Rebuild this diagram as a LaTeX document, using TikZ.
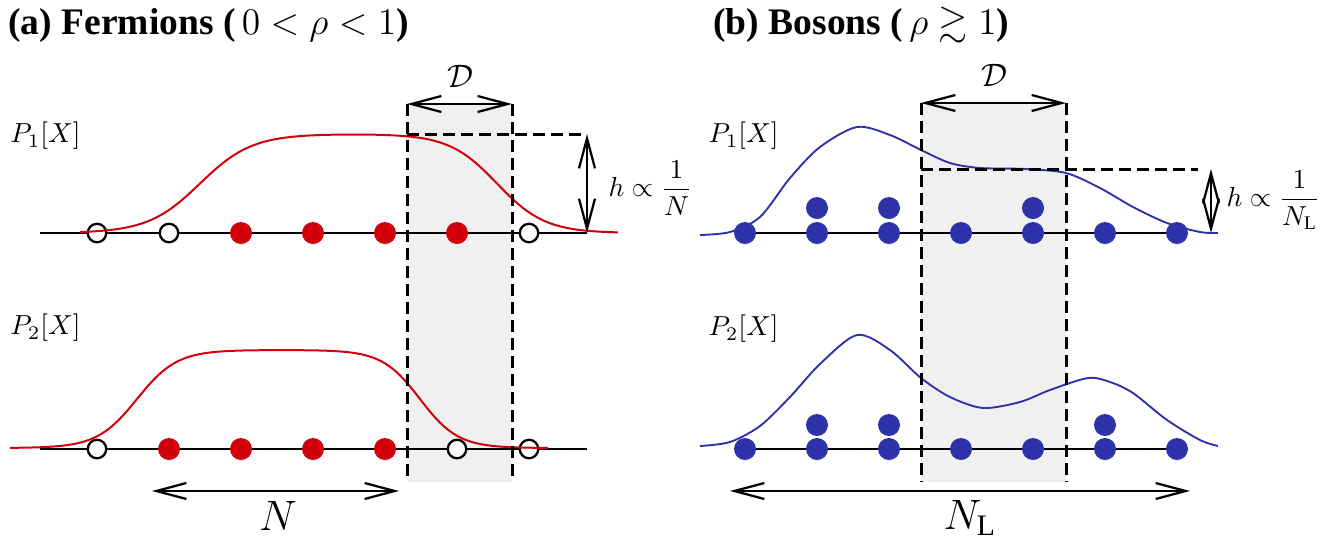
\documentclass[tikz,border=0pt]{standalone}
\usepackage{fix-cm}
\usepackage{amsmath,amssymb}
\usepackage{fontspec}
\setmainfont{Liberation Serif}
\usetikzlibrary{arrows.meta}
\definecolor{fermred}{RGB}{210,0,10}
\definecolor{bosblue}{RGB}{46,50,168}
\definecolor{shadegray}{RGB}{240,240,240}
\tikzset{
  axisline/.style={line width=1pt},
  hole/.style={circle, draw=black, fill=white, line width=0.9pt, minimum size=7.4pt, inner sep=0pt},
  ferm/.style={circle, fill=fermred, minimum size=8.8pt, inner sep=0pt},
  bos/.style={circle, fill=bosblue, minimum size=8.8pt, inner sep=0pt},
  guide/.style={line width=1.2pt, dash pattern=on 4.6pt off 2.6pt},
  dimarrow/.style={line width=0.9pt, {Straight Barb[length=12pt,width=6.4pt]}-{Straight Barb[length=12pt,width=6.4pt]}},
  redcurve/.style={draw=fermred, line width=0.8pt},
  bluecurve/.style={draw=bosblue, line width=0.75pt},
  lab/.style={inner sep=0pt, font=\fontsize{11}{13}\selectfont},
  bigl/.style={inner sep=0pt, font=\fontsize{17}{20}\selectfont},
  dl/.style={inner sep=0pt, font=\fontsize{13}{15}\selectfont},
  ttl/.style={inner sep=0pt, anchor=base west, font=\fontsize{15}{18}\selectfont\bfseries},
  declare function={th(\t)=tanh(max(-5,min(5,\t)));},
}
\begin{document}
\begin{tikzpicture}[x=0.4pt,y=-0.4pt]
\useasboundingbox (0,0) rectangle (1336,542);
% shaded windows
\fill[shadegray] (407,104) rectangle (512,482);
\fill[shadegray] (921,103) rectangle (1066,482);
% titles
\node[ttl] (tA) at (8,34) {(a) Fermions (\,$0<\rho<1$)};
\node[ttl] (tB) at (713,34) {(b) Bosons (\,$\rho\gtrsim 1$)};
% P labels
\node[lab, anchor=west] (pA1) at (10,136) {$P_1[X]$};
\node[lab, anchor=west] (pA2) at (10,328) {$P_2[X]$};
\node[lab, anchor=west] (pB1) at (708,136) {$P_1[X]$};
\node[lab, anchor=west] (pB2) at (708,329) {$P_2[X]$};
% axis lines
\coordinate (la1) at (40,233); \coordinate (la2) at (587,233);
\coordinate (lb1) at (40,449); \coordinate (lb2) at (587,449);
\draw[axisline] (la1) -- (la2);
\draw[axisline] (lb1) -- (lb2);
% panel (a) particles
\foreach \i/\x/\s in {1/97/hole,2/169/hole,3/241/ferm,4/313/ferm,5/385/ferm,6/457/ferm,7/529/hole}
  \node[\s] (ta\i) at (\x,233) {};
\foreach \i/\x/\s in {1/97/hole,2/169/ferm,3/241/ferm,4/313/ferm,5/385/ferm,6/457/hole,7/529/hole}
  \node[\s] (ba\i) at (\x,449) {};
% panel (a) curves
\draw[redcurve] plot[domain=80:618, samples=160] (\x, {233 - 49.5*(th((\x-200)/52) - th((\x-497)/48))});
\draw[redcurve] plot[domain=10:548, samples=160] (\x, {448 - 49*(th((\x-137)/40) - th((\x-420)/38))});
% panel (b) axis lines
\draw[axisline] (745,233) coordinate (lc1) -- (1177,233) coordinate (lc2);
\draw[axisline] (745,449) coordinate (ld1) -- (1177,449) coordinate (ld2);
% panel (b) particles
\foreach \i/\x in {1/745,2/817,3/889,4/961,5/1033,6/1105,7/1177}{
  \node[bos] (tb\i) at (\x,233) {};
  \node[bos] (bb\i) at (\x,449) {};
}
\foreach \i/\x in {2/817,3/889,5/1033} \node[bos] (tu\i) at (\x,208) {};
\foreach \i/\x in {2/817,3/889,6/1105} \node[bos] (bu\i) at (\x,425) {};
% panel (b) curves
\draw[bluecurve] plot[smooth] coordinates {(700,235) (730,232) (760,217) (790,178) (820,147) (857,127) (890,135) (921,150) (950,163) (980,168) (1025,169) (1066,173) (1100,188) (1133,207) (1167,223) (1200,232) (1218,233)};
\draw[bluecurve] plot[smooth] coordinates {(700,446) (730,442) (760,426) (790,397) (820,364) (857,335) (890,350) (921,378) (950,397) (983,408) (1020,402) (1050,390) (1088,378) (1110,382) (1133,393) (1167,420) (1200,440) (1218,446)};
% dashed guides (a)
\coordinate (da1) at (407,104); \coordinate (da2) at (512,104);
\coordinate (da1b) at (407,482); \coordinate (da2b) at (512,482);
\draw[guide] (da1) -- (da1b);
\draw[guide] (da2) -- (da2b);
\coordinate (ha1) at (407,134); \coordinate (ha2) at (587,134);
\draw[guide] (ha1) -- (ha2);
\draw[dimarrow] (da1) -- (da2);
\draw[dimarrow] (ha2) -- (la2);
\node[dl] (DA) at (460,76) {$\mathcal{D}$};
\node[lab, anchor=west] (hA) at (608,188) {$h\propto\dfrac{1}{N}$};
% dashed guides (b)
\coordinate (db1) at (921,103); \coordinate (db2) at (1066,103);
\coordinate (db1b) at (921,482); \coordinate (db2b) at (1066,482);
\draw[guide] (db1) -- (db1b);
\draw[guide] (db2) -- (db2b);
\coordinate (hb1) at (921,169); \coordinate (hb2) at (1198,169);
\draw[guide] (hb1) -- (hb2);
\coordinate (vb1) at (1211,169); \coordinate (vb2) at (1211,233);
\draw[dimarrow] (db1) -- (db2);
\draw[dimarrow] (vb1) -- (vb2);
\node[dl] (DB) at (994,75) {$\mathcal{D}$};
\node[lab, anchor=west] (hB) at (1226,200) {$h\propto\dfrac{1}{N_{\mathrm{L}}}$};
% N arrows
\coordinate (na1) at (152,491); \coordinate (na2) at (399,491);
\draw[dimarrow] (na1) -- (na2);
\node[bigl, anchor=base] (NA) at (278,530) {$N$};
\coordinate (nb1) at (730,491); \coordinate (nb2) at (1190,491);
\draw[dimarrow] (nb1) -- (nb2);
\node[bigl, anchor=base] (NB) at (970,529) {$N_{\mathrm{L}}$};
\end{tikzpicture}
\end{document}
